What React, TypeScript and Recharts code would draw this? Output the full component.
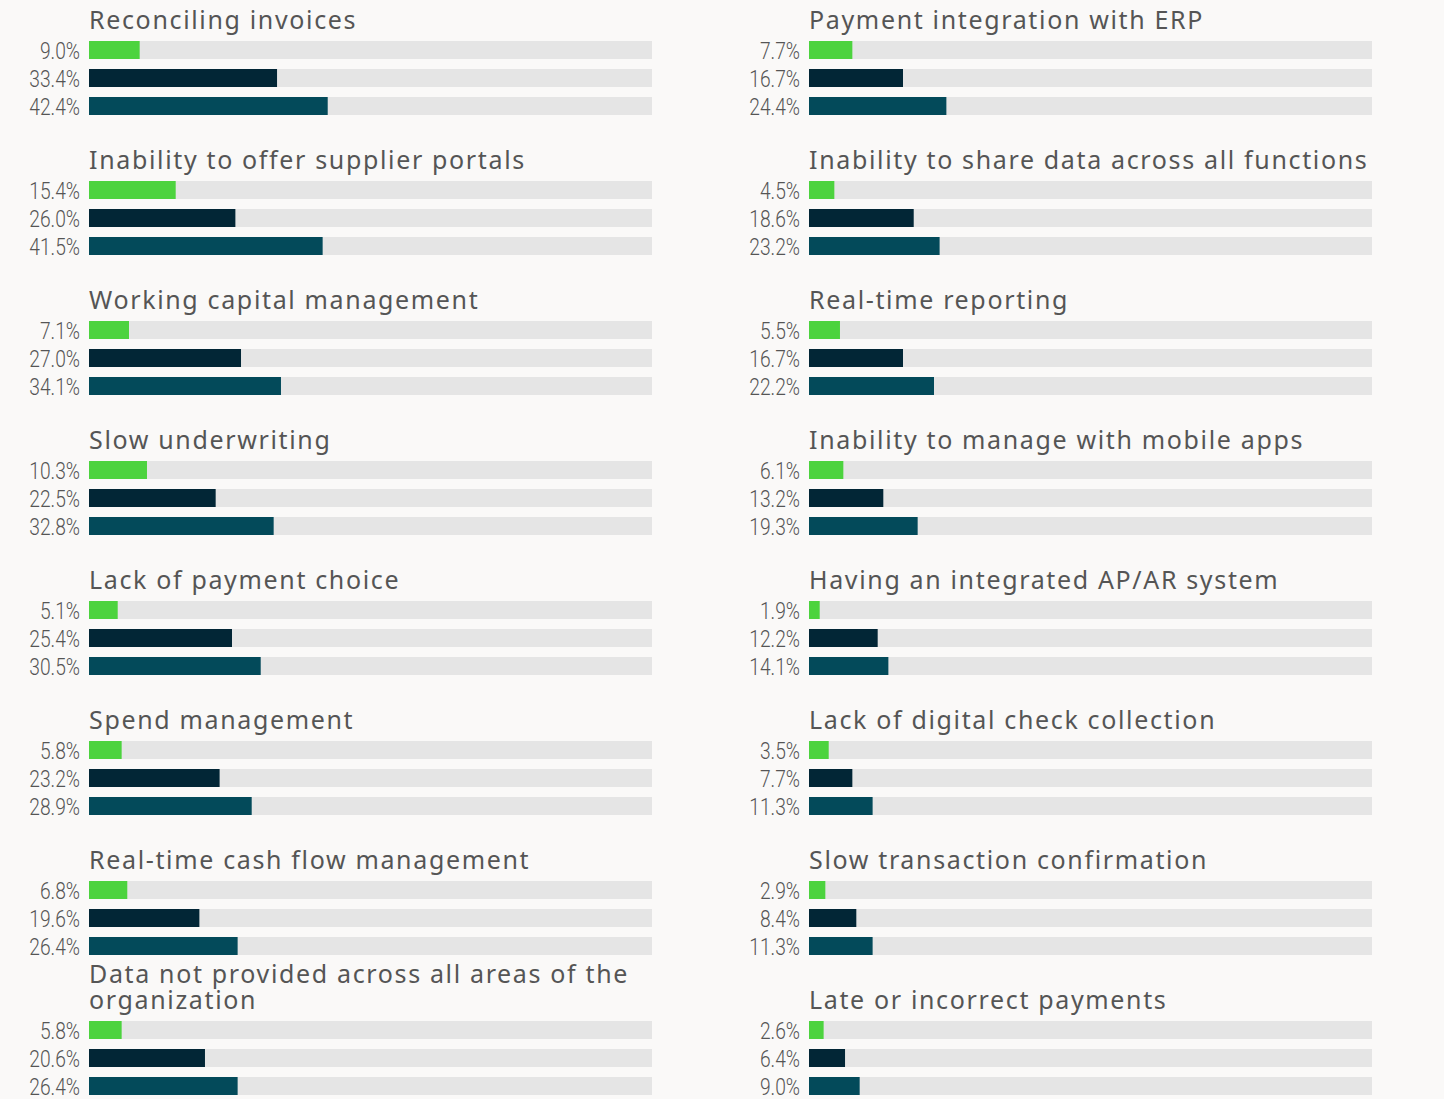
import React from 'react';
import { BarChart, Bar, XAxis, YAxis, Cell } from 'recharts';

const leftTitles = [
  'Reconciling invoices',
  'Inability to offer supplier portals',
  'Working capital management',
  'Slow underwriting',
  'Lack of payment choice',
  'Spend management',
  'Real-time cash flow management',
  'Data not provided across all areas of the organization',
];
const leftFirst = [9.0, 15.4, 7.1, 10.3, 5.1, 5.8, 6.8, 5.8];
const leftSecond = [33.4, 26.0, 27.0, 22.5, 25.4, 23.2, 19.6, 20.6];
const leftTotal = [42.4, 41.5, 34.1, 32.8, 30.5, 28.9, 26.4, 26.4];

const rightTitles = [
  'Payment integration with ERP',
  'Inability to share data across all functions',
  'Real-time reporting',
  'Inability to manage with mobile apps',
  'Having an integrated AP/AR system',
  'Lack of digital check collection',
  'Slow transaction confirmation',
  'Late or incorrect payments',
];
const rightFirst = [7.7, 4.5, 5.5, 6.1, 1.9, 3.5, 2.9, 2.6];
const rightSecond = [16.7, 18.6, 16.7, 13.2, 12.2, 7.7, 8.4, 6.4];
const rightTotal = [24.4, 23.2, 22.2, 19.3, 14.1, 11.3, 11.3, 9.0];

const rowColors = ['#4cd33e', '#022636', '#034a5a'];

const AXIS_W = 89;
const TRACK_W = 563;
const PITCH = 140;

// condensed light percentage label (squeezed Roboto Light)
const PctTick = (props: any) => {
  const { x, y, payload, values } = props;
  return (
    <text
      transform={`translate(${x},${y + 1}) scale(0.8,1)`}
      textAnchor="end"
      dominantBaseline="central"
      fill="#555"
      fontSize={24}
      fontWeight={300}
      fontFamily="Roboto, sans-serif"
    >
      {values[Number(payload.value)].toFixed(1) + '%'}
    </text>
  );
};

interface PanelProps {
  title: string;
  values: number[];
  left: number;
  top: number;
}

const Panel: React.FC<PanelProps> = ({ title, values, left, top }) => {
  const data = values.map((v, i) => ({ row: String(i), value: v }));
  const barTop = top + 41;
  return (
    <>
      <div
        style={{
          position: 'absolute',
          left: left + AXIS_W,
          width: 600,
          top: barTop - 92,
          height: 83,
          display: 'flex',
          alignItems: 'flex-end',
          fontFamily: '"Noto Sans", sans-serif',
          fontSize: 25,
          lineHeight: '26px',
          letterSpacing: 1.65,
          color: '#555',
        }}
      >
        <div>{title}</div>
      </div>
      <div style={{ position: 'absolute', left, top: barTop - 5 }}>
        <BarChart
          width={AXIS_W + TRACK_W}
          height={84}
          data={data}
          layout="vertical"
          margin={{ top: 0, right: 0, bottom: 0, left: 0 }}
          barCategoryGap={5}
        >
          <XAxis type="number" domain={[0, 100]} hide />
          <YAxis
            type="category"
            dataKey="row"
            width={AXIS_W}
            interval={0}
            axisLine={false}
            tickLine={false}
            tickSize={0}
            tickMargin={9}
            tick={<PctTick values={values} />}
          />
          <Bar
            dataKey="value"
            barSize={18}
            background={{ fill: '#e5e5e5' }}
            isAnimationActive={false}
          >
            {data.map((_d, i) => (
              <Cell key={i} fill={rowColors[i]} />
            ))}
          </Bar>
        </BarChart>
      </div>
    </>
  );
};

export default function App() {
  return (
    <div
      style={{
        position: 'absolute',
        left: 0,
        top: 0,
        width: 1444,
        height: 1099,
        background: '#faf9f8',
        overflow: 'hidden',
      }}
    >
      {leftTitles.map((t, i) => (
        <Panel
          key={'l' + i}
          title={t}
          values={[leftFirst[i], leftSecond[i], leftTotal[i]]}
          left={0}
          top={i * PITCH}
        />
      ))}
      {rightTitles.map((t, i) => (
        <Panel
          key={'r' + i}
          title={t}
          values={[rightFirst[i], rightSecond[i], rightTotal[i]]}
          left={720}
          top={i * PITCH}
        />
      ))}
    </div>
  );
}
